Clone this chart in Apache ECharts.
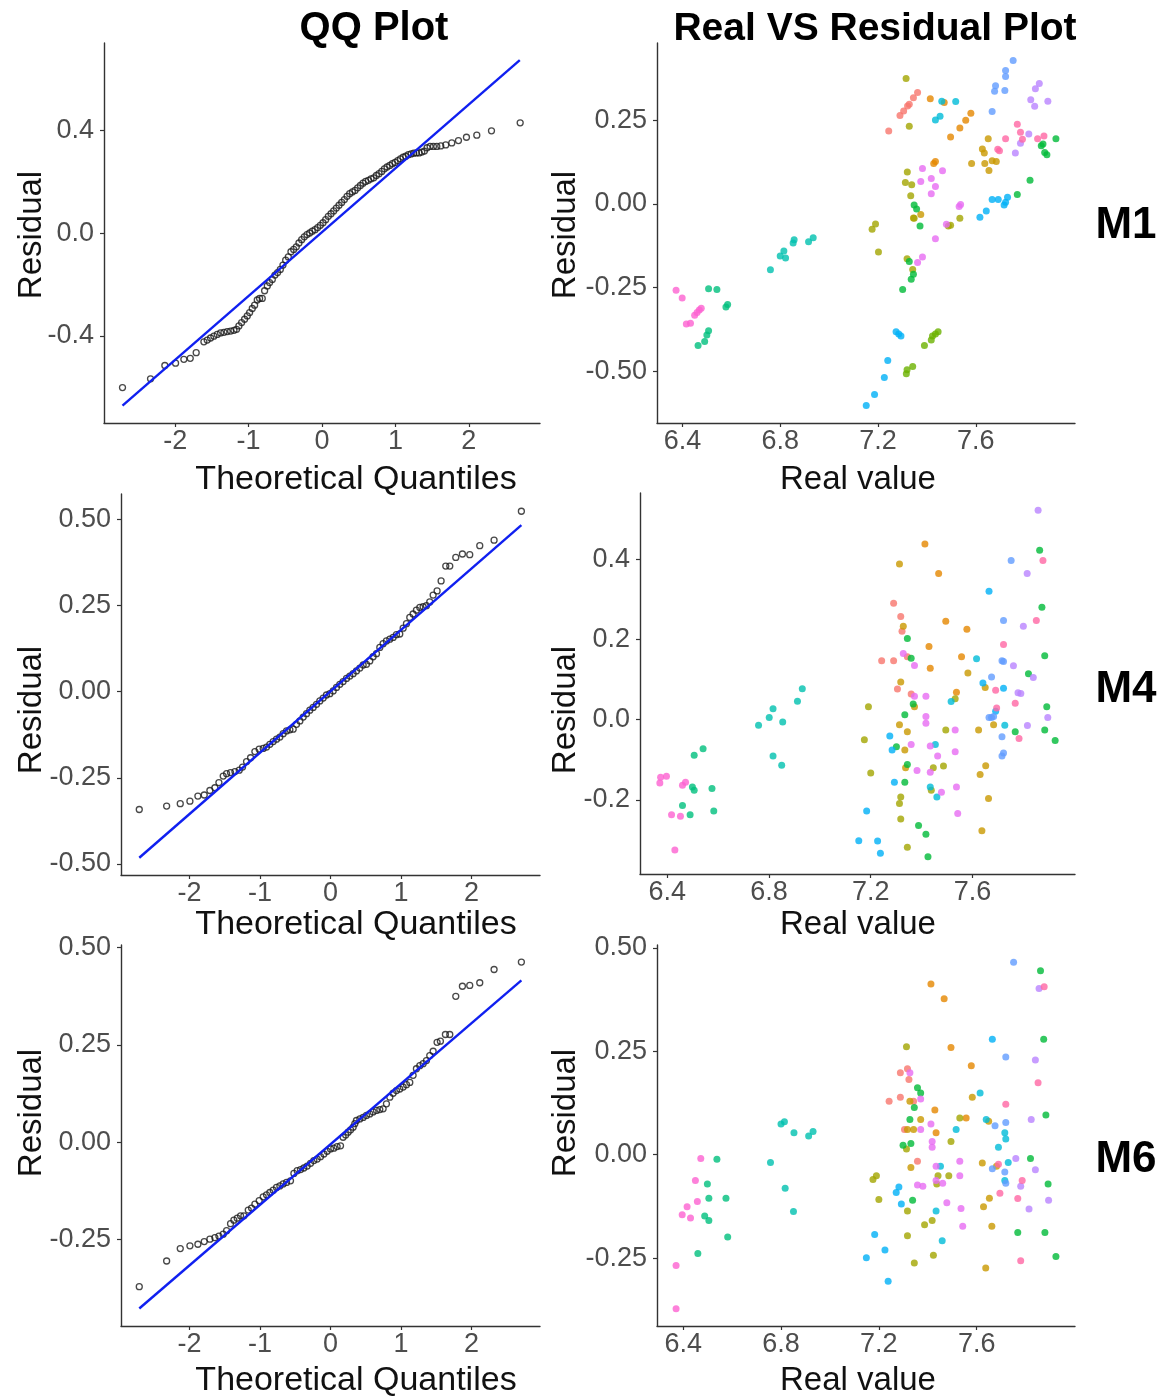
<!DOCTYPE html>
<html><head><meta charset="utf-8">
<script src="https://cdn.jsdelivr.net/npm/echarts@6/dist/echarts.min.js"></script>
<style>html,body{margin:0;padding:0;background:#fff}#c{width:1175px;height:1399px}</style>
</head><body><div id="c"></div>
<script>
// ---------- DATA ----------
const qqTicks = [-2, -1, 0, 1, 2];
const realTicks = [6.4, 6.8, 7.2, 7.6];
const m1ResTicks = [-0.4, 0, 0.4];
const m1ScTicks = [-0.5, -0.25, 0, 0.25];
const m4QqTicks = [-0.5, -0.25, 0, 0.25, 0.5];
const m4ScTicks = [-0.2, 0, 0.2, 0.4];
const m6Ticks = [-0.25, 0, 0.25, 0.5];

// QQ points [theoretical quantile, residual]
const qqM1 = [[-2.718,-0.601],[-2.336,-0.567],[-2.141,-0.515],[-1.995,-0.506],[-1.882,-0.491],[-1.795,-0.487],[-1.714,-0.465],[-1.609,-0.423],[-1.564,-0.416],[-1.518,-0.408],[-1.473,-0.401],[-1.427,-0.394],[-1.382,-0.388],[-1.336,-0.386],[-1.291,-0.383],[-1.245,-0.381],[-1.200,-0.378],[-1.164,-0.374],[-1.132,-0.361],[-1.095,-0.348],[-1.055,-0.335],[-1.018,-0.322],[-0.986,-0.309],[-0.950,-0.293],[-0.918,-0.280],[-0.882,-0.260],[-0.850,-0.254],[-0.814,-0.254],[-0.782,-0.224],[-0.745,-0.205],[-0.714,-0.192],[-0.677,-0.180],[-0.641,-0.163],[-0.605,-0.153],[-0.568,-0.141],[-0.532,-0.124],[-0.495,-0.105],[-0.459,-0.092],[-0.423,-0.072],[-0.386,-0.063],[-0.350,-0.053],[-0.314,-0.038],[-0.277,-0.025],[-0.241,-0.014],[-0.205,-0.005],[-0.168,0.001],[-0.132,0.008],[-0.095,0.014],[-0.059,0.022],[-0.023,0.031],[0.014,0.041],[0.050,0.053],[0.086,0.066],[0.123,0.076],[0.159,0.087],[0.195,0.098],[0.232,0.109],[0.268,0.120],[0.305,0.131],[0.341,0.144],[0.377,0.154],[0.414,0.161],[0.450,0.167],[0.486,0.177],[0.523,0.186],[0.559,0.195],[0.595,0.202],[0.632,0.206],[0.668,0.212],[0.705,0.216],[0.741,0.225],[0.777,0.232],[0.814,0.241],[0.850,0.251],[0.886,0.258],[0.923,0.264],[0.959,0.271],[0.995,0.276],[1.032,0.283],[1.068,0.290],[1.105,0.296],[1.141,0.300],[1.177,0.306],[1.214,0.309],[1.250,0.312],[1.286,0.313],[1.323,0.313],[1.359,0.316],[1.395,0.320],[1.432,0.333],[1.473,0.338],[1.518,0.338],[1.564,0.338],[1.618,0.340],[1.686,0.344],[1.768,0.352],[1.859,0.361],[1.968,0.374],[2.109,0.382],[2.309,0.399],[2.700,0.430]];
const qqM4 = [[-2.711,-0.342],[-2.323,-0.332],[-2.130,-0.325],[-1.993,-0.318],[-1.880,-0.303],[-1.790,-0.300],[-1.710,-0.287],[-1.639,-0.279],[-1.582,-0.264],[-1.521,-0.245],[-1.473,-0.238],[-1.417,-0.235],[-1.355,-0.232],[-1.294,-0.228],[-1.247,-0.219],[-1.190,-0.203],[-1.133,-0.192],[-1.072,-0.174],[-1.011,-0.167],[-0.954,-0.165],[-0.907,-0.161],[-0.860,-0.153],[-0.812,-0.145],[-0.765,-0.138],[-0.718,-0.132],[-0.671,-0.122],[-0.623,-0.114],[-0.576,-0.111],[-0.529,-0.109],[-0.482,-0.095],[-0.434,-0.085],[-0.387,-0.074],[-0.340,-0.064],[-0.293,-0.054],[-0.246,-0.046],[-0.198,-0.037],[-0.151,-0.027],[-0.104,-0.019],[-0.057,-0.010],[-0.009,-0.006],[0.038,0.002],[0.085,0.012],[0.132,0.021],[0.179,0.029],[0.227,0.038],[0.274,0.045],[0.321,0.052],[0.368,0.060],[0.416,0.068],[0.463,0.077],[0.510,0.079],[0.557,0.089],[0.604,0.101],[0.652,0.110],[0.699,0.128],[0.746,0.139],[0.793,0.147],[0.841,0.152],[0.888,0.157],[0.935,0.165],[0.982,0.167],[1.030,0.184],[1.077,0.197],[1.124,0.215],[1.171,0.225],[1.218,0.236],[1.266,0.244],[1.313,0.246],[1.360,0.249],[1.407,0.260],[1.455,0.280],[1.511,0.292],[1.568,0.321],[1.634,0.364],[1.691,0.364],[1.776,0.389],[1.870,0.399],[1.974,0.397],[2.116,0.423],[2.319,0.439],[2.706,0.523]];
const qqM6 = [[-2.711,-0.371],[-2.323,-0.305],[-2.130,-0.273],[-1.993,-0.266],[-1.880,-0.262],[-1.790,-0.255],[-1.710,-0.249],[-1.639,-0.245],[-1.582,-0.241],[-1.521,-0.236],[-1.473,-0.227],[-1.417,-0.209],[-1.370,-0.200],[-1.322,-0.195],[-1.275,-0.189],[-1.228,-0.189],[-1.166,-0.174],[-1.119,-0.169],[-1.072,-0.159],[-1.011,-0.150],[-0.954,-0.140],[-0.907,-0.135],[-0.860,-0.129],[-0.812,-0.123],[-0.765,-0.116],[-0.718,-0.112],[-0.671,-0.107],[-0.623,-0.103],[-0.567,-0.099],[-0.519,-0.080],[-0.472,-0.073],[-0.425,-0.070],[-0.378,-0.066],[-0.331,-0.061],[-0.283,-0.054],[-0.236,-0.047],[-0.189,-0.043],[-0.142,-0.037],[-0.094,-0.030],[-0.047,-0.023],[0.000,-0.017],[0.047,-0.015],[0.094,-0.011],[0.142,-0.009],[0.179,0.013],[0.215,0.019],[0.250,0.026],[0.285,0.032],[0.321,0.039],[0.345,0.048],[0.368,0.056],[0.416,0.060],[0.463,0.064],[0.510,0.069],[0.557,0.073],[0.604,0.078],[0.652,0.082],[0.699,0.084],[0.746,0.086],[0.793,0.099],[0.841,0.116],[0.888,0.126],[0.935,0.133],[0.982,0.137],[1.030,0.142],[1.077,0.148],[1.124,0.154],[1.171,0.172],[1.218,0.189],[1.266,0.197],[1.313,0.202],[1.360,0.210],[1.407,0.223],[1.455,0.234],[1.511,0.257],[1.558,0.260],[1.629,0.277],[1.691,0.277],[1.776,0.375],[1.870,0.401],[1.974,0.403],[2.116,0.410],[2.319,0.444],[2.706,0.463]];

// QQ reference line endpoints
const lineM1 = [[-2.718,-0.671],[2.695,0.674]];
const lineM4 = [[-2.711,-0.482],[2.706,0.483]];
const lineM6 = [[-2.711,-0.427],[2.706,0.416]];

// Real vs residual points [real value, residual, group]
const scM1 = [
[7.244,0.218,0],[7.290,0.264,0],[7.305,0.278,0],[7.321,0.293,0],[7.328,0.298,0],[7.345,0.317,0],[7.362,0.333,0],
[7.414,0.314,1],[7.471,0.303,1],[7.497,0.200,1],[7.535,0.227,1],[7.559,0.250,1],[7.580,0.271,1],[7.435,0.127,1],[7.428,0.121,1],
[7.651,0.195,2],[7.627,0.164,2],[7.635,0.152,2],[7.583,0.121,2],[7.637,0.121,2],[7.667,0.129,2],[7.684,0.127,2],[7.654,0.100,2],[7.375,-0.032,2],[7.345,-0.042,2],
[7.315,0.375,3],[7.328,0.232,3],[7.320,0.095,3],[7.312,0.064,3],[7.338,0.057,3],[7.334,0.024,3],[7.348,-0.043,3],[7.535,-0.043,3],[7.488,-0.066,3],[7.497,-0.064,3],[7.190,-0.060,3],[7.176,-0.076,3],[7.202,-0.144,3],[7.319,-0.164,3],[7.342,-0.196,3],
[7.446,-0.382,4],[7.435,-0.389,4],[7.423,-0.395,4],[7.418,-0.407,4],[7.390,-0.423,4],[7.342,-0.486,4],[7.319,-0.496,4],[7.316,-0.508,4],
[7.928,0.195,5],[7.868,0.174,5],[7.875,0.179,5],[7.882,0.154,5],[7.891,0.147,5],[7.822,0.071,5],[7.770,0.028,5],[7.348,-0.003,5],[7.358,-0.015,5],[7.372,-0.066,5],[7.328,-0.172,5],[7.345,-0.210,5],[7.336,-0.225,5],[7.301,-0.256,5],
[6.464,-0.423,6],[6.491,-0.411,6],[6.500,-0.392,6],[6.507,-0.379,6],[6.507,-0.254,6],[6.541,-0.256,6],[6.578,-0.308,6],[6.585,-0.301,6],
[6.760,-0.197,7],[6.800,-0.156,7],[6.815,-0.141,7],[6.822,-0.162,7],[6.853,-0.117,7],[6.857,-0.107,7],[6.916,-0.113,7],[6.935,-0.101,7],
[7.461,0.307,8],[7.518,0.306,8],[7.454,0.262,8],[7.435,0.251,8],
[7.617,-0.040,9],[7.643,-0.021,9],[7.667,0.013,9],[7.692,0.013,9],[7.716,-0.003,9],[7.722,0.005,9],[7.730,0.020,9],[7.274,-0.382,9],[7.285,-0.389,9],[7.294,-0.395,9],[7.240,-0.468,9],[7.226,-0.519,9],[7.186,-0.570,9],[7.152,-0.603,9],
[7.753,0.429,10],[7.722,0.399,10],[7.722,0.381,10],[7.681,0.353,10],[7.677,0.337,10],[7.719,0.339,10],[7.667,0.276,10],
[7.860,0.360,11],[7.844,0.344,11],[7.825,0.311,11],[7.841,0.292,11],[7.895,0.307,11],[7.817,0.209,11],[7.783,0.181,11],[7.762,0.152,11],
[7.382,0.106,12],[7.464,0.099,12],[7.375,0.067,12],[7.418,0.076,12],[7.435,0.052,12],[7.418,0.030,12],[7.538,-0.002,12],[7.532,-0.008,12],[7.480,-0.061,12],[7.435,-0.104,12],[7.382,-0.159,12],[7.362,-0.175,12],
[6.374,-0.258,13],[6.399,-0.281,13],[6.416,-0.359,13],[6.433,-0.357,13],[6.450,-0.333,13],[6.460,-0.325,13],[6.469,-0.317,13],[6.477,-0.312,13],
[7.770,0.238,14],[7.783,0.214,14],[7.791,0.193,14],[7.722,0.195,14],[7.690,0.163,14],[7.697,0.159,14],[7.853,0.195,14],[7.879,0.203,14]];
const scM4 = [
[6.371,-0.158,13],[6.374,-0.144,13],[6.397,-0.141,13],[6.417,-0.237,13],[6.430,-0.325,13],[6.452,-0.241,13],[6.460,-0.164,13],[6.472,-0.156,13],
[6.506,-0.089,6],[6.541,-0.073,6],[6.499,-0.168,6],[6.506,-0.176,6],[6.460,-0.214,6],[6.490,-0.237,6],[6.576,-0.172,6],[6.583,-0.228,6],
[6.759,-0.014,7],[6.801,0.005,7],[6.816,0.027,7],[6.854,-0.006,7],[6.816,-0.091,7],[6.850,-0.114,7],[6.912,0.046,7],[6.931,0.077,7],
[7.290,0.290,0],[7.318,0.257,0],[7.323,0.220,0],[7.344,0.157,0],[7.243,0.147,0],[7.290,0.147,0],[7.305,0.076,0],[7.359,0.064,0],
[7.413,0.438,1],[7.467,0.364,1],[7.495,0.245,1],[7.578,0.225,1],[7.429,0.182,1],[7.557,0.157,1],[7.434,0.128,1],[7.537,0.068,1],
[7.313,0.388,2],[7.328,0.233,2],[7.582,0.116,2],[7.318,0.094,2],[7.650,0.080,2],[7.372,0.032,2],[7.313,-0.013,2],[7.344,-0.030,2],[7.334,-0.076,2],[7.337,-0.120,2],[7.624,-0.026,2],[7.683,-0.013,2],[7.652,-0.115,2],[7.630,-0.137,2],[7.663,-0.197,2],[7.637,-0.277,2],
[7.191,0.032,3],[7.532,0.052,3],[7.495,-0.026,3],[7.175,-0.050,3],[7.446,-0.120,3],[7.486,-0.116,3],[7.200,-0.133,3],[7.438,-0.176,3],[7.318,-0.193,3],[7.313,-0.209,3],[7.318,-0.248,3],[7.344,-0.318,3],
[7.344,0.202,5],[7.359,0.153,5],[7.367,0.039,5],[7.334,0.012,5],[7.301,-0.068,5],[7.344,-0.112,5],[7.334,-0.156,5],[7.388,-0.264,5],[7.417,-0.286,5],[7.425,-0.342,5],[7.864,0.422,5],[7.873,0.280,5],[7.884,0.159,5],[7.820,0.114,5],[7.892,0.032,5],[7.768,-0.030,5],[7.884,-0.026,5],[7.925,-0.052,5],
[7.516,0.045,8],[7.454,-0.062,8],[7.434,-0.168,8],[7.460,-0.193,8],[7.616,0.152,8],[7.727,-0.014,8],
[7.665,0.320,9],[7.641,0.091,9],[7.722,0.078,9],[7.691,0.021,9],[7.275,-0.041,9],[7.284,-0.076,9],[7.293,-0.156,9],[7.184,-0.228,9],[7.227,-0.303,9],[7.238,-0.333,9],[7.153,-0.302,9],
[7.752,0.397,10],[7.722,0.247,10],[7.716,0.147,10],[7.722,0.145,10],[7.675,0.106,10],[7.665,0.005,10],[7.675,0.005,10],[7.683,0.008,10],[7.716,-0.043,10],[7.722,-0.083,10],[7.716,-0.091,10],
[7.858,0.522,11],[7.815,0.364,11],[7.800,0.233,11],[7.761,0.134,11],[7.839,0.105,11],[7.779,0.067,11],[7.790,0.065,11],[7.896,0.005,11],[7.816,-0.015,11],
[7.328,0.165,12],[7.372,0.135,12],[7.372,0.058,12],[7.417,0.058,12],[7.417,0.008,12],[7.417,-0.009,12],[7.532,-0.026,12],[7.359,-0.062,12],[7.434,-0.066,12],[7.463,-0.091,12],[7.532,-0.080,12],[7.382,-0.127,12],[7.434,-0.131,12],[7.478,-0.181,12],[7.537,-0.168,12],[7.542,-0.234,12],
[7.877,0.397,14],[7.851,0.247,14],[7.722,0.187,14],[7.691,0.073,14],[7.695,0.029,14],[7.768,0.041,14],[7.783,-0.047,14]];
const scM6 = [
[6.371,-0.268,13],[6.371,-0.372,13],[6.396,-0.145,13],[6.416,-0.126,13],[6.430,-0.153,13],[6.450,-0.062,13],[6.458,-0.113,13],[6.472,-0.009,13],
[6.460,-0.239,6],[6.488,-0.148,6],[6.505,-0.159,6],[6.499,-0.071,6],[6.505,-0.105,6],[6.538,-0.011,6],[6.575,-0.105,6],[6.582,-0.199,6],
[6.757,-0.019,7],[6.800,0.074,7],[6.814,0.080,7],[6.817,-0.081,7],[6.851,-0.137,7],[6.853,0.053,7],[6.913,0.045,7],[6.931,0.056,7],
[7.317,0.208,0],[7.288,0.198,0],[7.323,0.182,0],[7.288,0.139,0],[7.242,0.129,0],[7.342,0.129,0],[7.305,0.061,0],[7.358,-0.016,0],
[7.413,0.413,1],[7.467,0.377,1],[7.495,0.259,1],[7.578,0.215,1],[7.429,0.108,1],[7.557,0.089,1],[7.434,0.053,1],
[7.582,0.139,2],[7.327,0.129,2],[7.371,0.085,2],[7.649,0.081,2],[7.317,0.061,2],[7.342,0.061,2],[7.331,-0.031,2],[7.623,-0.020,2],[7.681,-0.028,2],[7.652,-0.105,2],[7.628,-0.126,2],[7.662,-0.173,2],[7.637,-0.274,2],
[7.313,0.261,3],[7.531,0.089,3],[7.495,0.032,3],[7.313,0.014,3],[7.442,-0.051,3],[7.486,-0.051,3],[7.437,-0.071,3],[7.176,-0.060,3],[7.190,-0.051,3],[7.200,-0.108,3],[7.317,-0.136,3],[7.418,-0.159,3],[7.387,-0.169,3],[7.317,-0.196,3],[7.423,-0.243,3],[7.345,-0.262,3],
[7.861,0.445,5],[7.874,0.279,5],[7.358,0.162,5],[7.371,0.149,5],[7.345,0.114,5],[7.327,0.085,5],[7.883,0.096,5],[7.299,0.023,5],[7.331,0.027,5],[7.820,-0.009,5],[7.892,-0.071,5],[7.338,-0.110,5],[7.768,-0.188,5],[7.879,-0.188,5],[7.924,-0.246,5],
[7.614,0.149,8],[7.516,0.061,8],[7.639,0.085,8],[7.715,0.053,8],[7.719,0.038,8],[7.689,0.018,8],[7.729,-0.019,8],[7.452,-0.028,8],[7.715,-0.062,8],[7.434,-0.136,8],[7.459,-0.208,8],
[7.664,0.279,9],[7.282,-0.078,9],[7.271,-0.091,9],[7.292,-0.119,9],[7.183,-0.193,9],[7.225,-0.230,9],[7.149,-0.249,9],[7.238,-0.306,9],
[7.751,0.465,10],[7.719,0.236,10],[7.675,0.070,10],[7.719,0.078,10],[7.664,-0.034,10],[7.715,-0.042,10],[7.719,-0.069,10],
[7.855,0.402,11],[7.840,0.229,11],[7.823,0.085,11],[7.760,-0.009,11],[7.840,-0.036,11],[7.780,-0.076,11],[7.894,-0.110,11],[7.814,-0.131,11],
[7.327,0.198,12],[7.371,0.135,12],[7.413,0.074,12],[7.371,0.061,12],[7.418,0.032,12],[7.418,0.018,12],[7.434,-0.028,12],[7.531,-0.016,12],[7.531,-0.051,12],[7.434,-0.062,12],[7.461,-0.069,12],[7.358,-0.073,12],[7.380,-0.076,12],[7.478,-0.116,12],[7.536,-0.130,12],[7.543,-0.173,12],
[7.876,0.406,14],[7.851,0.174,14],[7.719,0.122,14],[7.689,-0.023,14],[7.786,-0.062,14],[7.695,-0.093,14],[7.768,-0.106,14],[7.780,-0.256,14]];

// ---------- STYLE / LAYOUT ----------
const palette = ['#F8766D','#E58700','#C99800','#A3A500','#6BB100','#00BA38','#00BF7D','#00C0AF','#00BCD8','#00B0F6','#619CFF','#B983FF','#E76BF3','#FD61D1','#FF67A4'];
const FONT = 'Liberation Sans, Arial, sans-serif';

const panels = [
  {grid:{left:104,top:43,width:436,height:380}, x:[-2.97,2.97], y:[-0.739,0.741], xt:qqTicks, xd:0, yt:m1ResTicks, yd:1, qq:qqM1, line:lineM1},
  {grid:{left:657,top:43,width:418,height:380}, x:[6.296,8.006], y:[-0.655,0.481], xt:realTicks, xd:1, yt:m1ScTicks, yd:2, sc:scM1},
  {grid:{left:121,top:494,width:419,height:381}, x:[-2.97,2.97], y:[-0.532,0.573], xt:qqTicks, xd:0, yt:m4QqTicks, yd:2, qq:qqM4, line:lineM4},
  {grid:{left:640,top:493,width:435,height:381}, x:[6.293,8.003], y:[-0.385,0.565], xt:realTicks, xd:1, yt:m4ScTicks, yd:1, sc:scM4},
  {grid:{left:121,top:945,width:419,height:381}, x:[-2.97,2.97], y:[-0.472,0.507], xt:qqTicks, xd:0, yt:m6Ticks, yd:2, qq:qqM6, line:lineM6},
  {grid:{left:657,top:945,width:418,height:381}, x:[6.293,8.002], y:[-0.414,0.507], xt:realTicks, xd:1, yt:m6Ticks, yd:2, sc:scM6}
];

const axisLine = {show:true, onZero:false, lineStyle:{color:'#333', width:1.4}};
const grids=[], xAxes=[], yAxes=[], series=[];
panels.forEach((p,i)=>{
  grids.push(p.grid);
  xAxes.push({type:'value', gridIndex:i, position:'bottom', min:p.x[0], max:p.x[1], splitLine:{show:false}, axisLine,
    axisTick:{show:true, length:4, lineStyle:{color:'#333',width:1.2}, customValues:p.xt},
    axisLabel:{customValues:p.xt, formatter:v=>Number(v).toFixed(p.xd), fontFamily:FONT, fontSize:27, color:'#4d4d4d', margin:5}});
  yAxes.push({type:'value', gridIndex:i, position:'left', min:p.y[0], max:p.y[1], splitLine:{show:false}, axisLine,
    axisTick:{show:true, length:4, lineStyle:{color:'#333',width:1.2}, customValues:p.yt},
    axisLabel:{customValues:p.yt, formatter:v=>Number(v).toFixed(p.yd), fontFamily:FONT, fontSize:27, color:'#4d4d4d', margin:10}});
  if (p.qq) {
    series.push({type:'scatter', xAxisIndex:i, yAxisIndex:i, data:p.qq, symbol:'circle', symbolSize:6,
      itemStyle:{color:'rgba(255,255,255,0)', borderColor:'#1a1a1a', borderWidth:1.3}, silent:true, animation:false});
    series.push({type:'line', xAxisIndex:i, yAxisIndex:i, data:p.line, symbol:'none',
      lineStyle:{color:'#1020f0', width:2.4}, silent:true, animation:false, z:3});
  } else {
    series.push({type:'scatter', xAxisIndex:i, yAxisIndex:i, data:p.sc, symbol:'circle', symbolSize:7,
      itemStyle:{color:(pr)=>palette[pr.data[2]]}, silent:true, animation:false});
  }
});

const txt=(t,x,y,size,bold,rot)=>({type:'text', x, y, rotation:rot||0,
  style:{text:t, x:0, y:0, fill: bold?'#000':'#111', font:(bold?'bold ':'')+size+'px '+FONT, textAlign:'center', textVerticalAlign:'middle'}});
const R = Math.PI/2;
const graphics = [
  txt('QQ Plot',374,29,40,true), txt('Real VS Residual Plot',875,29,39,true),
  txt('M1',1126,226,44,true), txt('M4',1126,690,44,true), txt('M6',1126,1160,44,true)
];
[480,925,1381].forEach(y=>{
  graphics.push(txt('Theoretical Quantiles',356,y,34,false));
  graphics.push(txt('Real value',858,y,33,false));
});
[235,710,1113].forEach(y=>{
  graphics.push(txt('Residual',32,y,33,false,R));
  graphics.push(txt('Residual',566,y,33,false,R));
});

const chart = echarts.init(document.getElementById('c'), null, {renderer:'canvas'});
chart.setOption({
  animation:false, backgroundColor:'#fff',
  grid:grids, xAxis:xAxes, yAxis:yAxes, series,
  graphic:graphics
});
</script></body></html>
